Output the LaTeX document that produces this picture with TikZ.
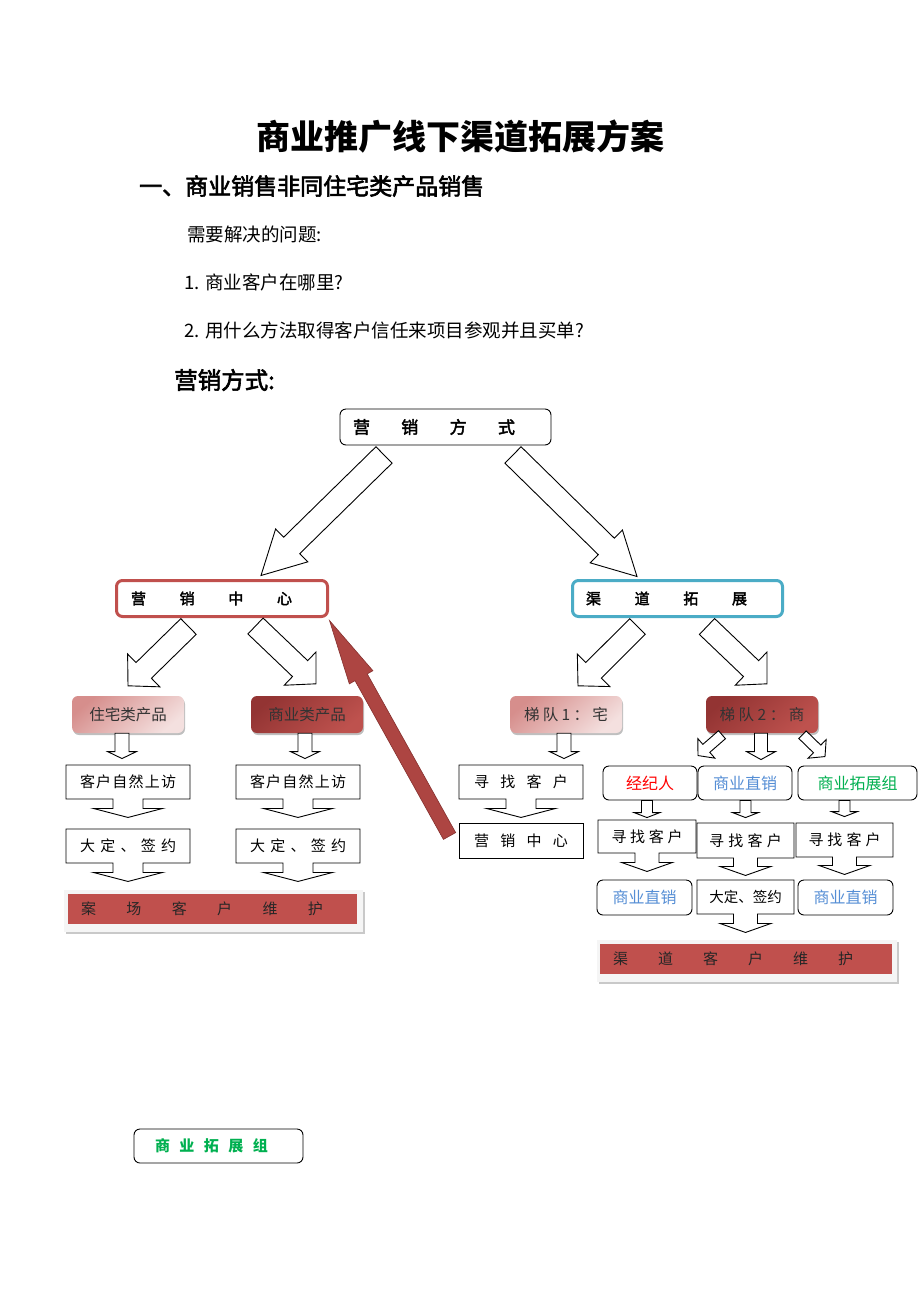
\documentclass[tikz,border=0pt]{standalone}
\usepackage{fontspec}
\setmainfont{Noto Sans CJK SC}
\newfontfamily\semibold[FakeBold=2.5]{Noto Sans CJK SC}
\usetikzlibrary{calc,shapes.arrows,shadows}

\definecolor{accred}{HTML}{C0504D}
\definecolor{accblue}{HTML}{4BACC6}
\definecolor{pinkdark}{HTML}{D68E8C}
\definecolor{pinklight}{HTML}{F4E0DF}
\definecolor{wine}{HTML}{933433}
\definecolor{winelight}{HTML}{BE524E}
\definecolor{txtred}{HTML}{FF0000}
\definecolor{txtblue}{HTML}{558ED5}
\definecolor{txtgreen}{HTML}{00B050}
\definecolor{arrowred}{HTML}{AD4542}
\definecolor{arrowedge}{HTML}{85302E}

\newcommand{\fsize}[1]{\fontsize{#1}{#1}\selectfont}
\newcommand{\spreadtxt}[2]{\makebox[#1pt][s]{#2}}

% block arrow: [style]{from}{to}{half shaft}{half head}{head length}
\newcommand{\blockarrow}[6][]{%
  \path (#2) coordinate (ba-s) (#3) coordinate (ba-t);
  \path ($(ba-t)!#6pt!(ba-s)$) coordinate (ba-h);
  \draw[barrow,#1] ($(ba-s)!#4pt!90:(ba-t)$) -- ($(ba-h)!#4pt!90:(ba-t)$)
    -- ($(ba-h)!#5pt!90:(ba-t)$) -- (ba-t) -- ($(ba-h)!#5pt!-90:(ba-t)$)
    -- ($(ba-h)!#4pt!-90:(ba-t)$) -- ($(ba-s)!#4pt!-90:(ba-t)$) -- cycle;
}

\tikzset{
  txt/.style={inner sep=0pt, anchor=west},
  plainbox/.style={draw, line width=0.9pt, fill=white, inner sep=0pt, font=\fsize{15}},
  roundbox/.style={plainbox, rounded corners=6pt, font=\fsize{16}},
  calloutbox/.style={plainbox, shape=arrow box, arrow box shaft width=30pt,
    arrow box head extend=19.5pt, arrow box tip angle=150.8, arrow box arrows={south:18pt}},
  smallcallout/.style={calloutbox, arrow box shaft width=24pt,
    arrow box head extend=13.5pt, arrow box tip angle=141.1},
  headbox/.style={draw, line width=3pt, rounded corners=6pt, fill=white, inner sep=0pt,
    minimum width=211pt, minimum height=36pt, font=\fsize{15}\semibold},
  gradbox/.style={rounded corners=6pt, inner sep=0pt, minimum width=112pt, minimum height=37pt,
    text=black!80, font=\fsize{15.5},
    drop shadow={shadow xshift=1pt, shadow yshift=-2pt, fill=black, opacity=.25}},
  lightgrad/.style={gradbox, top color=pinkdark, bottom color=pinklight, shading angle=40},
  darkgrad/.style={gradbox, top color=wine, bottom color=winelight, shading angle=40},
  barframe/.style={fill=gray!8, inner sep=0pt,
    drop shadow={shadow xshift=2pt, shadow yshift=-2pt, fill=gray!70, opacity=.6}},
  redbar/.style={fill=accred, inner sep=0pt, minimum height=30pt, text=black!85, font=\fsize{15}},
  barrow/.style={draw, line width=0.9pt, fill=white, line join=miter},
  redarrow/.style={fill=arrowred, draw=arrowedge, line width=0.6pt}
}

\begin{document}
\begin{tikzpicture}[x=1pt,y=-1pt]
\useasboundingbox[fill=white] (0,0) rectangle (920,1302);

% headings
\node[font=\fsize{34}\bfseries] (title) at (460,137) {商业推广线下渠道拓展方案};
\node[txt, font=\fsize{23}\semibold] (sec) at (139,186) {一、商业销售非同住宅类产品销售};
\node[txt, font=\fsize{18.5}] (q0) at (187,234) {需要解决的问题:};
\node[txt, font=\fsize{18.5}] (q1) at (184,282) {1. 商业客户在哪里?};
\node[txt, font=\fsize{18.5}] (q2) at (184,330) {2. 用什么方法取得客户信任来项目参观并且买单?};
\node[txt, font=\fsize{23.5}\semibold] (way) at (174,380) {营销方式:};

% top levels
\node[roundbox, minimum width=211pt, minimum height=36pt, font=\fsize{17}\semibold] (top) at (445.5,427)
  {\makebox[211pt][l]{\hspace{13pt}\spreadtxt{162}{营\hfill 销\hfill 方\hfill 式}}};
\node[headbox, draw=accred] (yxzx) at (222,598.5)
  {\makebox[211pt][l]{\hspace{14.5pt}\spreadtxt{161}{营\hfill 销\hfill 中\hfill 心}}};
\node[headbox, draw=accblue, minimum width=210pt] (qdtz) at (677.5,598.5)
  {\makebox[210pt][l]{\hspace{13.5pt}\spreadtxt{161}{渠\hfill 道\hfill 拓\hfill 展}}};

\node[lightgrad] (zhai) at (128,714.5) {住宅类产品};
\node[darkgrad] (shang) at (307,714.5) {商业类产品};
\node[lightgrad] (td1) at (566,714.5) {\spreadtxt{84}{梯\hfill 队\hfill 1\hfill ：\hfill 宅}};
\node[darkgrad] (td2) at (762,714.5) {\spreadtxt{85}{梯\hfill 队\hfill 2\hfill ：\hfill 商}};

% left: case field
\node[calloutbox, minimum width=124pt, minimum height=34pt] (fang1) at (128,782)
  {\spreadtxt{96}{客\hfill 户\hfill 自\hfill 然\hfill 上\hfill 访}};
\node[calloutbox, minimum width=124pt, minimum height=34pt] (fang2) at (298,782)
  {\spreadtxt{96}{客\hfill 户\hfill 自\hfill 然\hfill 上\hfill 访}};
\node[calloutbox, minimum width=124pt, minimum height=34pt] (qian1) at (128,846)
  {\spreadtxt{96}{大\hfill 定\hfill 、\hfill 签\hfill 约}};
\node[calloutbox, minimum width=124pt, minimum height=34pt] (qian2) at (298,846)
  {\spreadtxt{96}{大\hfill 定\hfill 、\hfill 签\hfill 约}};
\node[barframe, minimum width=299pt, minimum height=42pt] (frame1) at (213.5,911) {};
\node[redbar, minimum width=289pt] (bar1) at (212.5,909)
  {\makebox[289pt][l]{\hspace{13pt}\spreadtxt{242}{案\hfill 场\hfill 客\hfill 户\hfill 维\hfill 护}}};

% right: channels
\node[calloutbox, minimum width=124pt, minimum height=34pt] (xz0) at (521,782)
  {\spreadtxt{94}{寻\hfill 找\hfill 客\hfill 户}};
\node[plainbox, minimum width=124pt, minimum height=35pt] (yx2) at (521,840.5)
  {\spreadtxt{94}{营\hfill 销\hfill 中\hfill 心}};

\node[roundbox, minimum width=94pt, minimum height=34pt, text=txtred] (jjr) at (650,783) {经纪人};
\node[roundbox, minimum width=94pt, minimum height=34pt, text=txtblue] (zx1) at (745,783) {商业直销};
\node[roundbox, minimum width=119pt, minimum height=34pt, text=txtgreen] (tzz) at (857.5,783) {商业拓展组};

\node[smallcallout, minimum width=98pt, minimum height=33pt] (xz1) at (647,836.5)
  {\spreadtxt{71}{寻\hfill 找\hfill 客\hfill 户}};
\node[smallcallout, arrow box arrows={south:17pt}, minimum width=97pt, minimum height=35pt] (xz2) at (745.5,840.5)
  {\spreadtxt{73}{寻\hfill 找\hfill 客\hfill 户}};
\node[smallcallout, arrow box arrows={south:17pt}, minimum width=97pt, minimum height=34pt] (xz3) at (844.5,840)
  {\spreadtxt{72}{寻\hfill 找\hfill 客\hfill 户}};
\node[roundbox, minimum width=95pt, minimum height=35pt, text=txtblue] (zx2) at (644.5,897.5) {商业直销};
\node[smallcallout, minimum width=97pt, minimum height=34pt, font=\fsize{14.5}] (qian3) at (745.5,897) {大定、签约};
\node[roundbox, minimum width=95pt, minimum height=35pt, text=txtblue] (zx3) at (845.5,897.5) {商业直销};
\node[barframe, minimum width=300pt, minimum height=42pt] (frame2) at (747,961) {};
\node[redbar, minimum width=292pt] (bar2) at (746,959)
  {\makebox[292pt][l]{\hspace{13pt}\spreadtxt{240}{渠\hfill 道\hfill 客\hfill 户\hfill 维\hfill 护}}};

% lone box at the bottom
\node[roundbox, minimum width=169pt, minimum height=34pt, text=txtgreen, font=\fsize{15}\bfseries] (tzz2) at (218.5,1146)
  {\makebox[169pt][l]{\hspace{21pt}\spreadtxt{113}{商\hfill 业\hfill 拓\hfill 展\hfill 组}}};

% block arrows
\blockarrow{$(top.south)+(-61.5,9.5)$}{$(yxzx.north)+(39,-3.5)$}{11.5}{23}{43}
\blockarrow{$(top.south)+(67.5,9.5)$}{$(qdtz.north)+(-40.5,-2.5)$}{11.5}{23}{43}
\blockarrow{$(yxzx.south)+(-33.5,8.5)$}{$(zhai.north)+(0,-10)$}{11}{23}{22}
\blockarrow{$(yxzx.south)+(33.5,8)$}{$(shang.north)+(9,-12)$}{11}{23}{22}
\blockarrow{$(qdtz.south)+(-40,8.5)$}{$(td1.north)+(12,-10)$}{11}{23}{22}
\blockarrow{$(qdtz.south)+(29.5,8.5)$}{$(td2.north)+(5,-12)$}{11}{23}{22}

\blockarrow{$(zhai.south)+(-6,0)$}{$(fang1.north)+(-6,-6)$}{7}{14.5}{7}
\blockarrow{$(shang.south)+(-2,0)$}{$(fang2.north)+(7,-6)$}{7}{14.5}{7}
\blockarrow{$(td1.south)+(-2,0)$}{$(xz0.north)+(43,-6)$}{7}{14.5}{7}
\blockarrow{$(td2.south)+(-1,0)$}{$(zx1.north)+(16,-6)$}{6.5}{14.5}{8}
\blockarrow{$(td2.south)+(-40,1.5)$}{$(jjr.north)+(48,-10)$}{5.3}{13}{11}
\blockarrow{$(td2.south)+(40.5,1.5)$}{$(tzz.north)+(-32.5,-9)$}{5.3}{13}{11}

\blockarrow{$(jjr.south)+(-3,0)$}{$(xz1.north)+(0,-2)$}{5.5}{13}{5}
\blockarrow{$(zx1.south)+(0.5,0)$}{$(xz2.north)+(0,-5)$}{5.5}{13}{5}
\blockarrow{$(tzz.south)+(-13,0)$}{$(xz3.north)+(0,-6)$}{5.5}{13}{5}

% back to the sales centre
\blockarrow[redarrow]{$(yx2.west)+(-9,-4.5)$}{$(yxzx.south east)+(0.5,2.5)$}{7}{13.5}{65}
\end{tikzpicture}
\end{document}
